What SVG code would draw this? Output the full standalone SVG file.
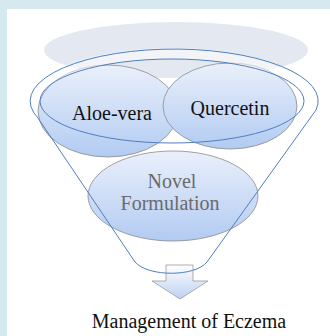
<svg xmlns="http://www.w3.org/2000/svg" width="330" height="336" viewBox="0 0 330 336">
<defs>
<linearGradient id="gBall" x1="0" y1="0" x2="0" y2="1">
<stop offset="0" stop-color="#eaf0fb"/>
<stop offset="1" stop-color="#b2cbf2"/>
</linearGradient>
<linearGradient id="gArrow" x1="0" y1="0" x2="0" y2="1">
<stop offset="0" stop-color="#ffffff"/>
<stop offset="1" stop-color="#bcd1f2"/>
</linearGradient>
<style>
.ball{fill:url(#gBall);stroke:#8a8a8a;stroke-width:0.8}
.lbl{font-family:"Liberation Serif","Times New Roman",serif;font-size:20px;fill:#111;text-anchor:middle}
.gray{fill:#6a6a6a}
.funnel{fill:none;stroke:#4f7fc0;stroke-width:1}
</style>
</defs>
<rect x="0" y="0" width="330" height="336" fill="#d5e9ef"/>
<rect x="7" y="9" width="323" height="327" fill="#ffffff"/>
<ellipse cx="176" cy="50" rx="132" ry="28" fill="#e4e9f1"/>
<g id="novel">
<ellipse class="ball" cx="173" cy="196" rx="85" ry="45"/>
<text class="lbl gray" x="172" y="188">Novel</text>
<text class="lbl gray" x="170" y="210">Formulation</text>
</g>
<g id="aloe">
<ellipse class="ball" cx="108" cy="111" rx="70" ry="46"/>
<text class="lbl" x="112" y="120">Aloe-vera</text>
</g>
<g id="quercetin">
<ellipse class="ball" cx="230" cy="106" rx="67" ry="43"/>
<text class="lbl" x="230" y="115">Quercetin</text>
</g>
<g id="arrow">
<path d="M166,265 H193 V281 H208 L180,299 L152,281 H166 Z" fill="url(#gArrow)" stroke="#9a9a9a" stroke-width="0.8"/>
</g>
<g id="connectors">
<path d="M29,100 A144 52 0 0 1 317,100 L304,101 A132 42 0 0 0 40,101 Z" fill="#ffffff" fill-opacity="0.5"/>
<path class="funnel" d="M38,118 A144 52 0 1 1 316,110 L207,262 C195,277 148,277 135,262 Z"/>
<ellipse class="funnel" cx="172" cy="101" rx="132" ry="42"/>
</g>
<g id="result">
<text x="189" y="328" font-family="'Liberation Serif','Times New Roman',serif" font-size="20" fill="#111" text-anchor="middle">Management of Eczema</text>
</g>
</svg>
